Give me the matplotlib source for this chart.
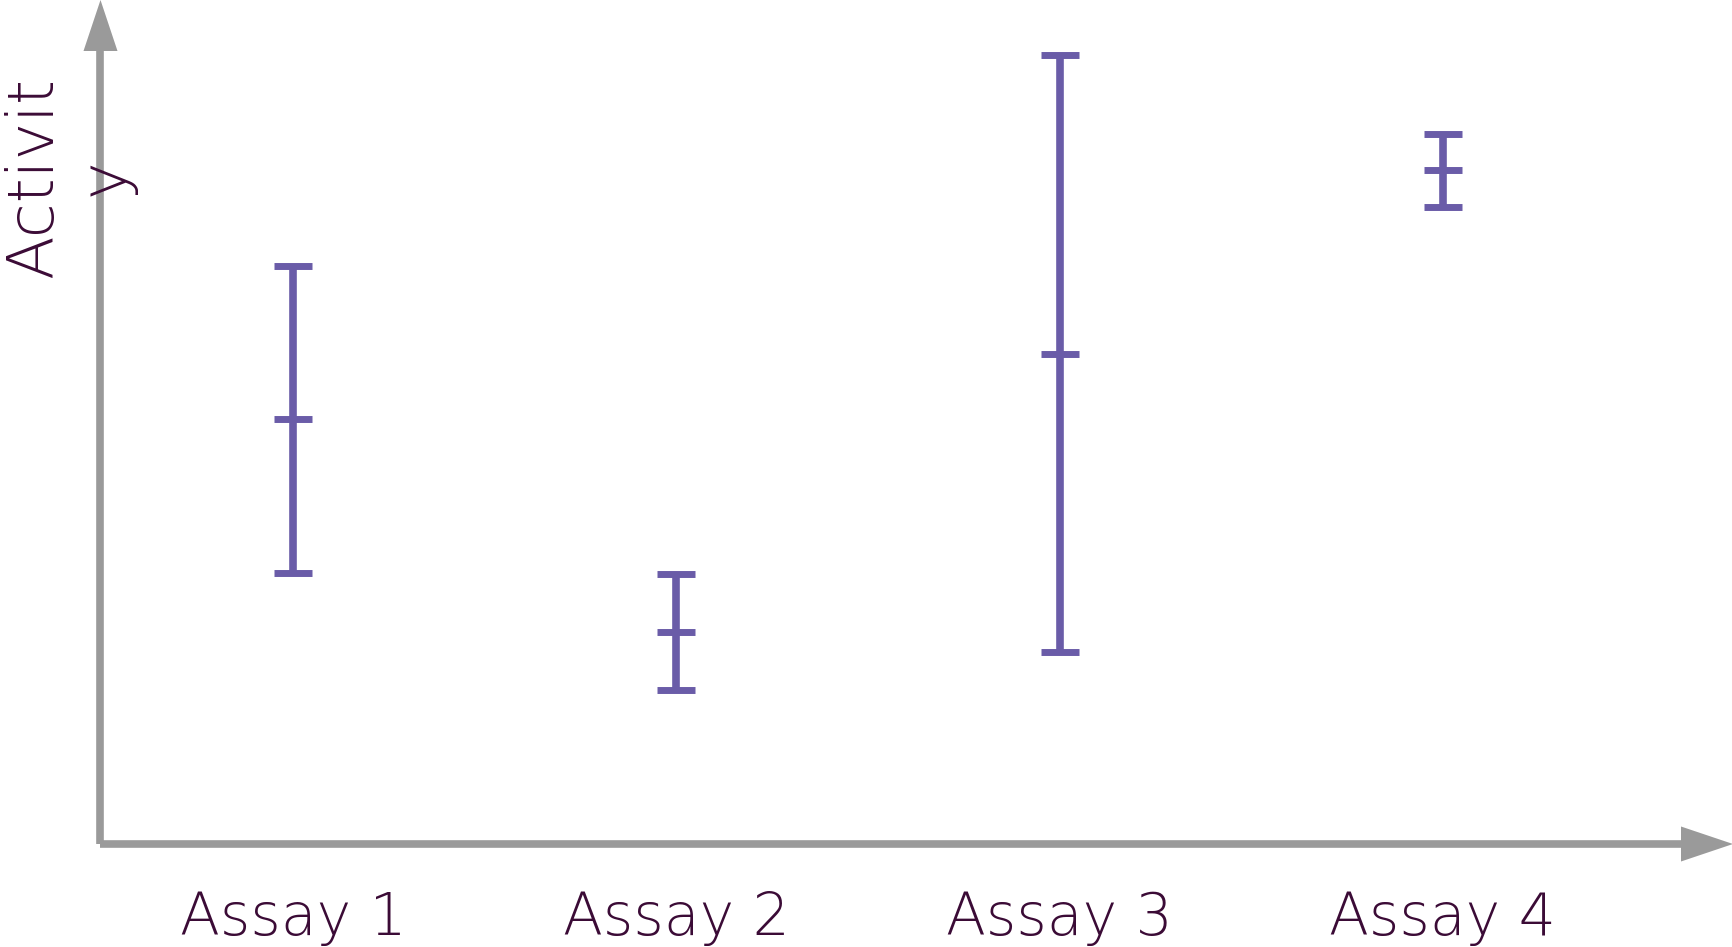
import matplotlib
matplotlib.use('Agg')
import matplotlib.pyplot as plt
from matplotlib.patches import Polygon

assays = ['Assay 1', 'Assay 2', 'Assay 3', 'Assay 4']
means = [53.1, 26.5, 61.3, 84.2]
errors = [19.2, 7.2, 37.3, 4.6]

bar_color = '#6a5ca8'
axis_color = '#9a9a9a'
text_color = '#3b0b36'

W, H = 1733, 947
fig = plt.figure(figsize=(W / 100, H / 100), dpi=100)
# axes: left edge at x=100.5px, bottom at y=844px from top, reaching the top/right of the figure
left, bottom = 100.5 / W, (H - 844) / H
ax = fig.add_axes([left, bottom, 1 - left, 1 - bottom])

x = list(range(len(assays)))
ax.errorbar(x, means, yerr=errors, fmt='_', color=bar_color,
            markersize=27.4, markeredgewidth=5, elinewidth=5.5,
            capsize=13.7, capthick=5)

ax.set_xlim(-0.502, 3.757)
ax.set_ylim(0, 105.5)

for s in ax.spines.values():
    s.set_visible(False)
ax.set_yticks([])
ax.set_xticks(x)
ax.set_xticklabels(assays, fontsize=42, color=text_color,
                   fontfamily='DejaVu Sans', fontweight=200)
ax.tick_params(axis='x', length=0, pad=33)

# axis lines with arrow heads
ax_w, ax_h = W - 100.5, 844
ax.plot([0, 0], [0, 1 - 51 / ax_h], transform=ax.transAxes, color=axis_color,
        lw=5.5, solid_capstyle='butt', clip_on=False)
ax.plot([0, 1 - 52 / ax_w], [0, 0], transform=ax.transAxes, color=axis_color,
        lw=5.5, solid_capstyle='butt', clip_on=False)
ax.add_patch(Polygon([[0 - 17 / ax_w, 1 - 51 / ax_h], [0 + 17 / ax_w, 1 - 51 / ax_h], [0, 1]],
                     closed=True, transform=ax.transAxes, color=axis_color, clip_on=False, lw=0))
ax.add_patch(Polygon([[1 - 52 / ax_w, 17.5 / ax_h], [1 - 52 / ax_w, -17.5 / ax_h], [1, 0]],
                     closed=True, transform=ax.transAxes, color=axis_color, clip_on=False, lw=0))

fig.text(70 / W, 1 - 177 / H, 'Activit\ny', rotation=90, ha='center', va='center',
         multialignment='center', fontsize=46, color=text_color,
         fontfamily='DejaVu Sans', fontweight=200, linespacing=1.2)

fig.savefig('out.png', dpi=100)
